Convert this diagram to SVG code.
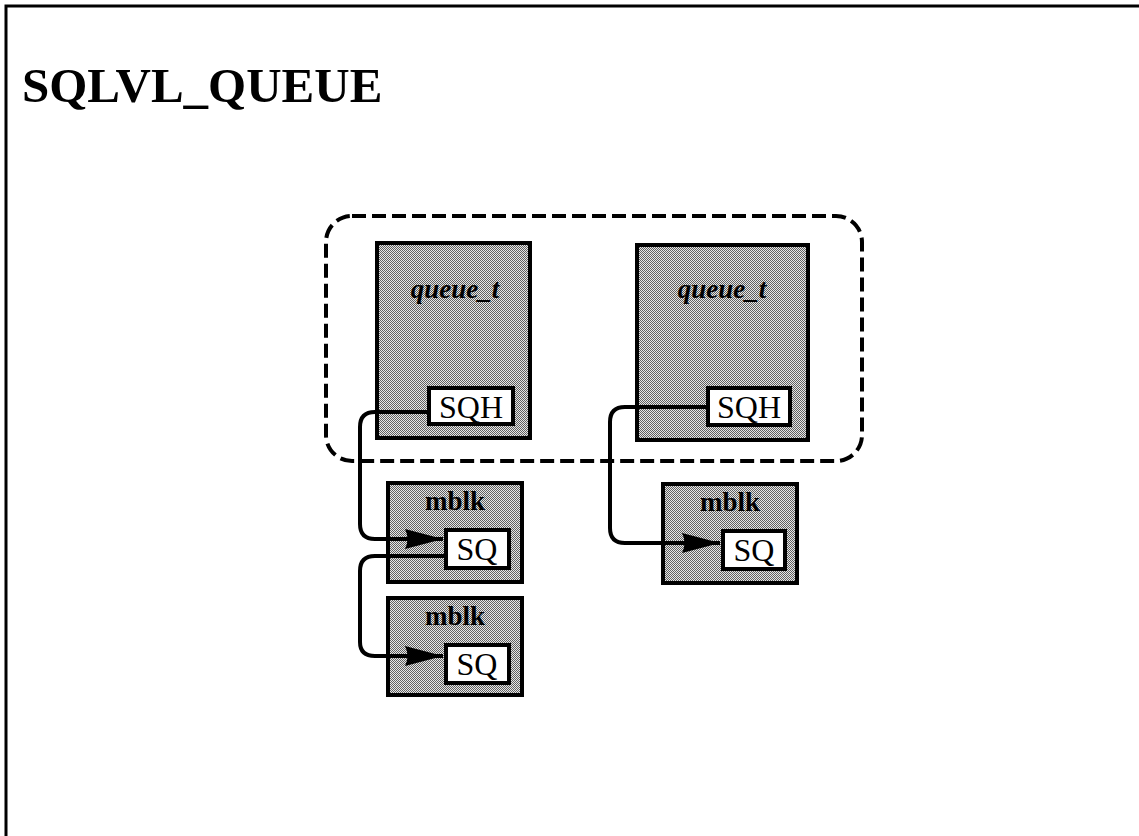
<svg xmlns="http://www.w3.org/2000/svg" width="1139" height="836" viewBox="0 0 1139 836">
<defs>
<pattern id="stip" width="2" height="2" patternUnits="userSpaceOnUse">
<rect width="2" height="2" fill="#e6e6e6"/>
<rect width="1" height="1" fill="#606060"/>
<rect x="1" y="1" width="1" height="1" fill="#606060"/>
</pattern>
<marker id="arr" markerUnits="userSpaceOnUse" markerWidth="40" markerHeight="24" refX="38" refY="12" orient="auto" viewBox="0 0 40 24">
<path d="M0 2 L38 12 L0 22 Q5 12 0 2 z" fill="#000"/>
</marker>
</defs>
<style>
.frame{fill:none;stroke:#000;stroke-width:3}
.title{font-family:"Liberation Serif","Times New Roman",serif;font-weight:bold;font-size:49px;fill:#000}
.group{fill:none;stroke:#000;stroke-width:4;stroke-dasharray:14 6}
.box{fill:url(#stip);stroke:#000;stroke-width:4}
.field{fill:#fff;stroke:#000;stroke-width:4}
.qt{font-family:"Liberation Serif","Times New Roman",serif;font-style:italic;font-weight:bold;font-size:27px;text-anchor:middle;fill:#000}
.mb{font-family:"Liberation Serif","Times New Roman",serif;font-weight:bold;font-size:27px;text-anchor:middle;fill:#000}
.ft{font-family:"Liberation Serif","Times New Roman",serif;font-size:32px;text-anchor:middle;fill:#000}
.conn{fill:none;stroke:#000;stroke-width:4}
</style>
<rect class="frame" x="6" y="6" width="1140" height="840"/>
<text class="title" x="22" y="102">SQLVL_QUEUE</text>
<rect id="sqlvl-group" class="group" x="326" y="216" width="536" height="245" rx="26"/>
<g id="queue1">
<rect class="box" x="377" y="243" width="153" height="195"/>
<text class="qt" x="455" y="298">queue_t</text>
<rect class="field" x="429" y="388" width="84" height="36"/>
<text class="ft" x="471" y="418">SQH</text>
</g>
<g id="queue2">
<rect class="box" x="637" y="245" width="171" height="195"/>
<text class="qt" x="722" y="298">queue_t</text>
<rect class="field" x="708" y="388" width="82" height="37"/>
<text class="ft" x="749" y="418">SQH</text>
</g>
<g id="mblk1">
<rect class="box" x="388" y="483" width="134" height="99"/>
<text class="mb" x="455" y="510">mblk</text>
<rect class="field" x="446" y="530" width="63" height="38"/>
<text class="ft" x="477" y="560">SQ</text>
</g>
<g id="mblk2">
<rect class="box" x="388" y="598" width="134" height="97"/>
<text class="mb" x="455" y="625">mblk</text>
<rect class="field" x="446" y="645" width="63" height="38"/>
<text class="ft" x="477" y="675">SQ</text>
</g>
<g id="mblk3">
<rect class="box" x="663" y="484" width="134" height="99"/>
<text class="mb" x="730" y="511">mblk</text>
<rect class="field" x="723" y="531" width="62" height="38"/>
<text class="ft" x="754" y="561">SQ</text>
</g>
<g id="connectors">
<path class="conn" marker-end="url(#arr)" d="M429 412 H375 Q360 412 360 427 V524 Q360 539 375 539 H443"/>
<path class="conn" marker-end="url(#arr)" d="M446 556 H375 Q360 556 360 571 V642 Q360 656 375 656 H443"/>
<path class="conn" marker-end="url(#arr)" d="M708 407 H625 Q610 407 610 422 V528 Q610 543 625 543 H720"/>
</g>
</svg>
